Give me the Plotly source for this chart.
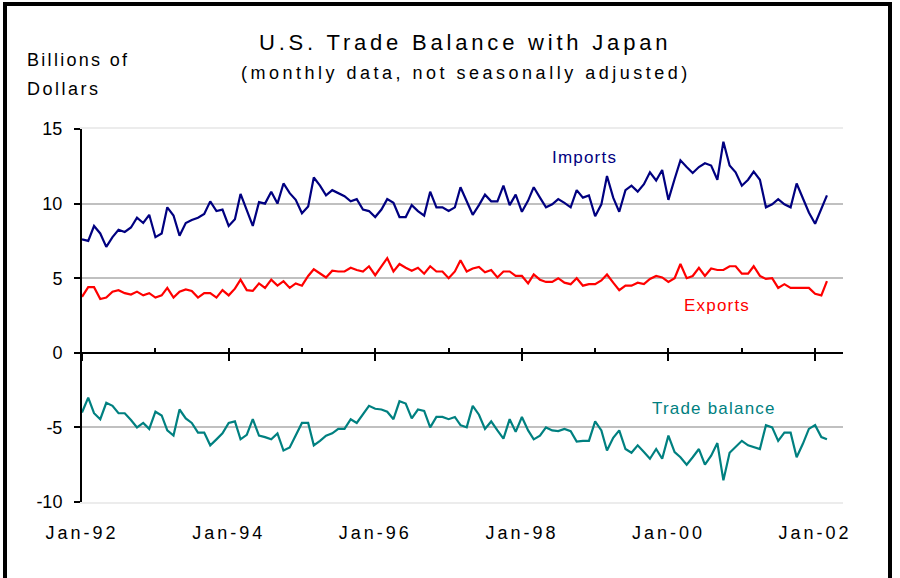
import pandas as pd
import plotly.graph_objects as go

# monthly values, Jan-92 .. Mar-02, billions of dollars
months = pd.date_range("1992-01-01", periods=123, freq="MS")

imports = [
    7.6, 7.5, 8.5, 8.0, 7.1, 7.75, 8.25, 8.1, 8.4, 9.05, 8.7, 9.25,
    7.75, 8.0, 9.75, 9.2, 7.85, 8.7, 8.9, 9.05, 9.3, 10.15, 9.5, 9.6,
    8.5, 8.95, 10.65, 9.6, 8.5, 10.1, 10.0, 10.8, 10.0, 11.35, 10.7, 10.25,
    9.35, 9.8, 11.75, 11.2, 10.55, 10.9, 10.7, 10.5, 10.15, 10.3, 9.6, 9.5,
    9.1, 9.6, 10.3, 10.05, 9.1, 9.1, 9.9, 9.5, 9.2, 10.8, 9.75, 9.75,
    9.5, 9.75, 11.1, 10.2, 9.25, 9.9, 10.6, 10.15, 10.15, 11.2, 9.9, 10.6,
    9.45, 10.2, 11.1, 10.4, 9.75, 9.95, 10.3, 10.05, 9.75, 10.9, 10.4, 10.55,
    9.15, 9.95, 11.85, 10.4, 9.45, 10.9, 11.2, 10.8, 11.3, 12.1, 11.55, 12.25,
    10.25, 11.65, 12.9, 12.45, 12.05, 12.45, 12.7, 12.55, 11.6, 14.15, 12.55, 12.1,
    11.2, 11.6, 12.15, 11.6, 9.75, 9.95, 10.3, 9.95, 9.75, 11.35, 10.4, 9.4,
    8.65, 9.6, 10.55,
]

exports = [
    3.75, 4.4, 4.4, 3.6, 3.7, 4.1, 4.2, 4.0, 3.9, 4.1, 3.85, 4.0,
    3.7, 3.85, 4.35, 3.7, 4.1, 4.25, 4.15, 3.7, 4.0, 4.0, 3.7, 4.2,
    3.85, 4.3, 4.9, 4.2, 4.15, 4.65, 4.35, 4.9, 4.5, 4.8, 4.35, 4.65,
    4.5, 5.15, 5.6, 5.35, 5.05, 5.5, 5.45, 5.45, 5.7, 5.55, 5.45, 5.8,
    5.2, 5.8, 6.35, 5.45, 5.95, 5.7, 5.5, 5.7, 5.3, 5.8, 5.45, 5.45,
    5.0, 5.45, 6.2, 5.45, 5.65, 5.75, 5.4, 5.55, 5.05, 5.45, 5.45, 5.15,
    5.15, 4.65, 5.25, 4.9, 4.75, 4.75, 5.0, 4.7, 4.6, 5.0, 4.5, 4.6,
    4.6, 4.85, 5.25, 4.7, 4.2, 4.5, 4.5, 4.7, 4.6, 4.95, 5.15, 5.05,
    4.75, 5.0, 5.95, 5.0, 5.15, 5.7, 5.15, 5.65, 5.55, 5.55, 5.8, 5.8,
    5.3, 5.3, 5.8, 5.15, 4.95, 5.0, 4.35, 4.6, 4.35, 4.35, 4.35, 4.35,
    3.95, 3.85, 4.8,
]

balance = [
    -4.0, -3.0, -4.05, -4.45, -3.35, -3.55, -4.05, -4.05, -4.5, -5.0, -4.7, -5.1,
    -3.95, -4.2, -5.2, -5.55, -3.8, -4.4, -4.7, -5.35, -5.35, -6.2, -5.8, -5.4,
    -4.7, -4.6, -5.8, -5.5, -4.45, -5.55, -5.65, -5.8, -5.4, -6.55, -6.35, -5.5,
    -4.7, -4.7, -6.2, -5.9, -5.55, -5.4, -5.1, -5.1, -4.45, -4.7, -4.15, -3.55,
    -3.75, -3.8, -3.95, -4.45, -3.25, -3.4, -4.4, -3.8, -3.9, -5.0, -4.3, -4.3,
    -4.45, -4.3, -4.85, -5.0, -3.55, -4.15, -5.1, -4.6, -5.2, -5.75, -4.45, -5.3,
    -4.3, -5.2, -5.8, -5.55, -5.0, -5.2, -5.25, -5.1, -5.25, -5.95, -5.9, -5.9,
    -4.6, -5.2, -6.55, -5.7, -5.2, -6.45, -6.7, -6.2, -6.65, -7.1, -6.45, -7.1,
    -5.55, -6.65, -7.0, -7.5, -7.0, -6.45, -7.5, -6.9, -6.05, -8.55, -6.7, -6.3,
    -5.9, -6.2, -6.3, -6.45, -4.85, -5.0, -5.9, -5.35, -5.35, -7.0, -6.1, -5.1,
    -4.85, -5.65, -5.8,
]

tick_dates = ["1992-01-01", "1994-01-01", "1996-01-01",
              "1998-01-01", "2000-01-01", "2002-01-01"]
tick_labels = ["Jan-92", "Jan-94", "Jan-96", "Jan-98", "Jan-00", "Jan-02"]
year_dates = [f"{y}-01-01" for y in range(1992, 2003)]
y_ticks = [-10, -5, 0, 5, 10, 15]
y_labels = ["-10", "-5", "0", "5", "10", "15"]

FONT = "Liberation Sans, Arial, sans-serif"

# plot area in pixels
L, R, T, B = 82, 843, 129, 502


def px_x(px):
    return (px - L) / (R - L)


def px_y(py):
    return (B - py) / (B - T)


def spaced(text, sp):
    return f'<span style="letter-spacing:{sp}px">{text}</span>'


fig = go.Figure()

fig.add_trace(go.Scatter(x=months, y=imports, mode="lines",
                         line=dict(color="#000080", width=2.2), name="Imports"))
fig.add_trace(go.Scatter(x=months, y=exports, mode="lines",
                         line=dict(color="#ff0000", width=2.2), name="Exports"))
fig.add_trace(go.Scatter(x=months, y=balance, mode="lines",
                         line=dict(color="#008080", width=2.2), name="Trade balance"))

# invisible helpers so the zero-line axes get drawn
for ax in ["x2", "x3"]:
    fig.add_trace(go.Scatter(x=months, y=imports, xaxis=ax, mode="lines",
                             opacity=0, hoverinfo="skip", showlegend=False))

x_range = ["1992-01-01", "2002-05-20"]

fig.update_layout(
    width=900,
    height=578,
    margin=dict(l=L, r=900 - R, t=T, b=578 - B, pad=0),
    paper_bgcolor="white",
    plot_bgcolor="white",
    showlegend=False,
    font=dict(family=FONT, color="black", size=17),
    xaxis=dict(
        type="date",
        range=x_range,
        tickvals=tick_dates,
        ticktext=[spaced(t, 3) for t in tick_labels],
        tickfont=dict(size=18),
        ticks="",
        ticklabelstandoff=13,
        showgrid=False,
        zeroline=False,
        showline=True,
        linecolor="#ececec",
        linewidth=2,
        mirror=True,
    ),
    xaxis2=dict(
        type="date",
        range=x_range,
        overlaying="x",
        anchor="free",
        position=0.4,
        showline=True,
        linecolor="black",
        linewidth=2,
        ticks="outside",
        ticklen=7,
        tickwidth=2,
        tickcolor="black",
        tickvals=tick_dates,
        showticklabels=False,
        showgrid=False,
        zeroline=False,
    ),
    xaxis3=dict(
        type="date",
        range=x_range,
        overlaying="x",
        anchor="free",
        position=0.4,
        showline=False,
        ticks="inside",
        ticklen=5,
        tickwidth=2,
        tickcolor="black",
        tickvals=year_dates,
        showticklabels=False,
        showgrid=False,
        zeroline=False,
    ),
    yaxis=dict(
        range=[-10, 15],
        tickvals=y_ticks,
        ticktext=y_labels,
        ticks="outside",
        ticklen=6,
        tickwidth=2,
        tickcolor="black",
        tickfont=dict(size=18),
        ticklabelstandoff=8,
        showline=True,
        linecolor="black",
        linewidth=2,
        showgrid=True,
        gridcolor="#c0c0c0",
        gridwidth=2,
        zeroline=False,
    ),
)

# chart frame
fig.add_shape(type="rect", xref="paper", yref="paper",
              x0=px_x(5), x1=px_x(890), y0=px_y(600), y1=px_y(4),
              line=dict(color="black", width=4))

annotations = [
    dict(text=spaced("U.S. Trade Balance with Japan", 3.8), x=px_x(465), y=px_y(42),
         font=dict(size=22), xanchor="center"),
    dict(text=spaced("(monthly data, not seasonally adjusted)", 3.5), x=px_x(466), y=px_y(73),
         font=dict(size=18), xanchor="center"),
    dict(text=spaced("Billions of", 2.3), x=px_x(25), y=px_y(60),
         font=dict(size=18), xanchor="left"),
    dict(text=spaced("Dollars", 2.5), x=px_x(25), y=px_y(89),
         font=dict(size=18), xanchor="left"),
]
for a in annotations:
    fig.add_annotation(xref="paper", yref="paper", yanchor="middle",
                       showarrow=False, **a)

series_labels = [
    ("Imports", "1998-11-10", 13.1, "#000080"),
    ("Exports", "2000-08-28", 3.15, "#ff0000"),
    ("Trade balance", "2000-08-13", -3.7, "#008080"),
]
for text, xd, yv, col in series_labels:
    fig.add_annotation(x=xd, y=yv, xref="x", yref="y", showarrow=False,
                       text=spaced(text, 1.2), font=dict(size=17, color=col),
                       xanchor="center", yanchor="middle")

# page body has a default margin; drop it so the figure sits at the window origin
fig.write_html("out.html", config={"displayModeBar": False},
               post_script="document.body.style.margin='0';")
